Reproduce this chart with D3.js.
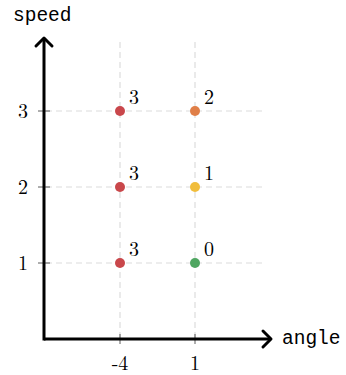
<!DOCTYPE html>
<html>
<head>
<meta charset="utf-8">
<script src="https://cdn.jsdelivr.net/npm/d3@7"></script>
<style>
  body { margin: 0; background: #fff; }
  .num { font-family: "Latin Modern Roman", "Liberation Serif", "DejaVu Serif", serif; font-size: 20px; }
  .lbl { font-family: "Liberation Mono", "DejaVu Sans Mono", monospace; font-size: 19.5px; }
</style>
</head>
<body>
<div id="chart"></div>
<script>
var angles = ["-4", "1"];
var speeds = [1, 2, 3];
var pointAngle = ["-4", "1", "-4", "1", "-4", "1"];
var pointSpeed = [3, 3, 2, 2, 1, 1];
var pointValue = [3, 2, 3, 1, 3, 0];
var valueColors = ["#4fa661", "#f1bd3b", "#e07f48", "#c9474b"];

var W = 346, H = 375;
var ox = 44, oy = 339;

var svg = d3.select("#chart").append("svg")
    .attr("width", W).attr("height", H);

var x = d3.scalePoint()
    .domain(angles)
    .range([45, 270])
    .padding(1);

var y = d3.scaleLinear()
    .domain([0, 4])
    .range([oy, 35]);

// grid
svg.append("g").selectAll("line.vg")
  .data(angles).enter().append("line")
    .attr("x1", function(d) { return x(d); })
    .attr("x2", function(d) { return x(d); })
    .attr("y1", 42).attr("y2", oy)
    .attr("stroke", "#dcdcdc").attr("stroke-width", 1.2)
    .attr("stroke-dasharray", "6,4");

svg.append("g").selectAll("line.hg")
  .data(speeds).enter().append("line")
    .attr("x1", 46).attr("x2", 262)
    .attr("y1", function(d) { return y(d); })
    .attr("y2", function(d) { return y(d); })
    .attr("stroke", "#dcdcdc").attr("stroke-width", 1.2)
    .attr("stroke-dasharray", "6,4");

// ticks
svg.append("g").selectAll("line")
  .data(angles).enter().append("line")
    .attr("x1", function(d) { return x(d); })
    .attr("x2", function(d) { return x(d); })
    .attr("y1", oy - 5).attr("y2", oy + 5)
    .attr("stroke", "#333").attr("stroke-width", 0.8);
svg.append("g").selectAll("text")
  .data(angles).enter().append("text")
    .attr("class", "num")
    .attr("x", function(d) { return x(d); })
    .attr("y", oy + 31)
    .attr("text-anchor", "middle")
    .text(function(d) { return d; });

svg.append("g").selectAll("line")
  .data(speeds).enter().append("line")
    .attr("x1", ox - 6).attr("x2", ox + 6)
    .attr("y1", function(d) { return y(d); })
    .attr("y2", function(d) { return y(d); })
    .attr("stroke", "#333").attr("stroke-width", 0.8);
svg.append("g").selectAll("text")
  .data(speeds).enter().append("text")
    .attr("class", "num")
    .attr("x", ox - 16)
    .attr("y", function(d) { return y(d) + 7; })
    .attr("text-anchor", "end")
    .text(function(d) { return d; });

// axes with arrows
svg.append("path")
    .attr("d", "M" + ox + "," + oy + "H270")
    .attr("stroke", "#000").attr("stroke-width", 3).attr("fill", "none");
svg.append("path")
    .attr("d", "M263,331 L271," + oy + " L263,347")
    .attr("stroke", "#000").attr("stroke-width", 3).attr("fill", "none")
    .attr("stroke-linecap", "round").attr("stroke-linejoin", "round");
svg.append("path")
    .attr("d", "M" + ox + "," + (oy + 1.5) + "V39")
    .attr("stroke", "#000").attr("stroke-width", 3).attr("fill", "none");
svg.append("path")
    .attr("d", "M36,46 L" + ox + ",38 L52,46")
    .attr("stroke", "#000").attr("stroke-width", 3).attr("fill", "none")
    .attr("stroke-linecap", "round").attr("stroke-linejoin", "round");

svg.append("text").attr("class", "lbl")
    .attr("x", 282).attr("y", oy + 5).text("angle");
svg.append("text").attr("class", "lbl")
    .attr("x", 13).attr("y", 21).text("speed");

// points
var pts = pointValue.map(function(v, i) {
  return {a: pointAngle[i], s: pointSpeed[i], v: v};
});
svg.append("g").selectAll("circle")
  .data(pts).enter().append("circle")
    .attr("cx", function(d) { return x(d.a); })
    .attr("cy", function(d) { return y(d.s); })
    .attr("r", 5)
    .attr("fill", function(d) { return valueColors[d.v]; });
svg.append("g").selectAll("text")
  .data(pts).enter().append("text")
    .attr("class", "num")
    .attr("x", function(d) { return x(d.a) + 9; })
    .attr("y", function(d) { return y(d.s) - 7; })
    .text(function(d) { return d.v; });
</script>
</body>
</html>
